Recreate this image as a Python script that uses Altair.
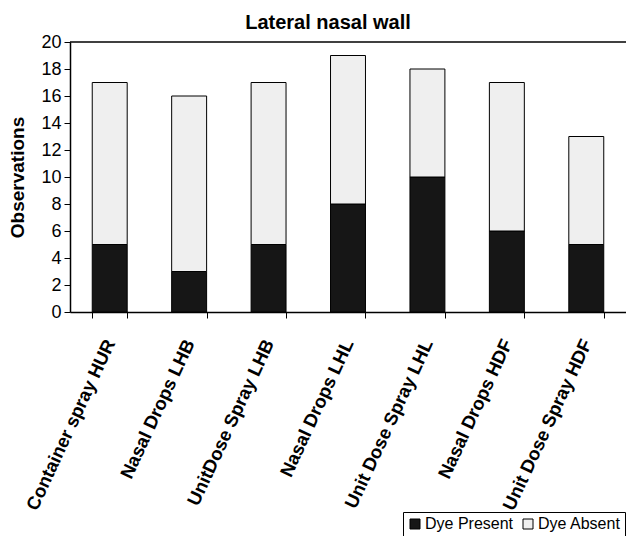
import altair as alt
import pandas as pd

categories = ["Container spray HUR", "Nasal Drops LHB", "UnitDose Spray LHB",
              "Nasal Drops LHL", "Unit Dose Spray LHL", "Nasal Drops HDF",
              "Unit Dose Spray HDF"]
present = [5, 3, 5, 8, 10, 6, 5]
absent = [12, 13, 12, 11, 8, 11, 8]
series = ["Dye Present", "Dye Absent"]
y_ticks = list(range(0, 21, 2))

rows = []
for c, p, a in zip(categories, present, absent):
    rows.append({"cat": c, "series": series[0], "value": p, "order": 0})
    rows.append({"cat": c, "series": series[1], "value": a, "order": 1})
df = pd.DataFrame(rows)

FONT = "Liberation Sans"

y_axis = alt.Axis(values=y_ticks, title="Observations", titleFontSize=19,
                  titleFontWeight="bold", labelFontSize=18, tickSize=6,
                  labelPadding=3, titlePadding=13, grid=False,
                  labelOverlap=False)
y_scale = alt.Scale(domain=[0, 20], nice=False)

bars = alt.Chart(df).mark_bar(stroke="black", strokeWidth=1).encode(
    x=alt.X("cat:N", sort=categories,
            scale=alt.Scale(paddingInner=0.56, paddingOuter=0.28),
            axis=alt.Axis(title=None, labelAngle=295, labelFontSize=18.5,
                          labelFontWeight="bold", labelPadding=22,
                          tickBand="extent", tickSize=6, labelLimit=300,
                          labelOverlap=False)),
    y=alt.Y("value:Q", stack="zero", scale=y_scale, axis=y_axis),
    color=alt.Color("series:N", sort=series,
                    scale=alt.Scale(domain=series, range=["#161616", "#efefef"]),
                    legend=alt.Legend(title=None, orient="none", legendX=333, legendY=470,
                                      direction="horizontal", symbolType="square",
                                      symbolSize=100, symbolStrokeColor="black",
                                      symbolStrokeWidth=1, labelFontSize=16,
                                      labelColor="black", strokeColor="black",
                                      fillColor="white", padding=4, columnPadding=6,
                                      labelOffset=2)),
    order=alt.Order("order:Q"),
)

top = alt.Chart(pd.DataFrame({"y": [20]})).mark_rule(color="black", strokeWidth=1.5).encode(
    y=alt.Y("y:Q", scale=y_scale, axis=y_axis)
)

chart = alt.layer(bars, top).properties(
    width=556, height=270,
    autosize=alt.AutoSizeParams(type="none"),
    padding={"left": 62, "top": 34, "right": 0, "bottom": 224},
    title=alt.TitleParams("Lateral nasal wall", fontSize=20, fontWeight="bold",
                          color="black", dx=-20, offset=0),
).configure(font=FONT).configure_view(stroke=None).configure_axis(
    domainColor="black", tickColor="black", labelColor="black", titleColor="black",
    domainWidth=1.5,
)

chart.save("out.html", embed_options={"renderer": "svg", "actions": False})
